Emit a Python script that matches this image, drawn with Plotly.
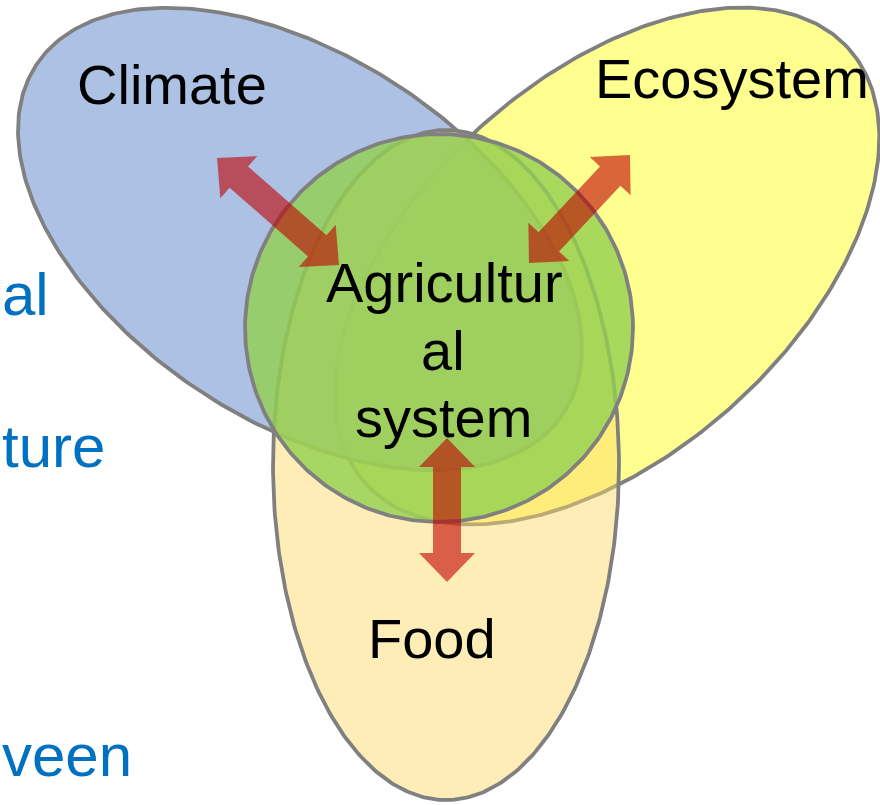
import numpy as np
import plotly.graph_objects as go

# ---- text content ----
circle_labels = ["Climate", "Ecosystem", "Food"]
center_lines = ["Agricultur", "al", "system"]
side_words = ["al", "ture", "veen"]

W, H = 880, 805
FONT = "Liberation Sans, Arial, sans-serif"
OUTLINE = "rgb(128,128,128)"
ARROW = "rgba(192,0,0,0.6)"


def ellipse(cx, cy, a, b, ang_deg, n=360):
    t = np.linspace(0, 2 * np.pi, n)
    ang = np.radians(ang_deg)
    x = cx + a * np.cos(t) * np.cos(ang) - b * np.sin(t) * np.sin(ang)
    y = cy + a * np.cos(t) * np.sin(ang) + b * np.sin(t) * np.cos(ang)
    return x, y


def arrow(x0, y0, x1, y1, shaft=28, head_w=56, head_l=29):
    dx, dy = x1 - x0, y1 - y0
    L = np.hypot(dx, dy)
    u = np.array([dx / L, dy / L])
    p = np.array([-u[1], u[0]])
    p0 = np.array([x0, y0]); p1 = np.array([x1, y1])
    pts = np.array([
        p0,
        p0 + u * head_l + p * head_w / 2,
        p0 + u * head_l + p * shaft / 2,
        p1 - u * head_l + p * shaft / 2,
        p1 - u * head_l + p * head_w / 2,
        p1,
        p1 - u * head_l - p * head_w / 2,
        p1 - u * head_l - p * shaft / 2,
        p0 + u * head_l - p * shaft / 2,
        p0 + u * head_l - p * head_w / 2,
        p0,
    ])
    return pts[:, 0], pts[:, 1]


fig = go.Figure()

# shapes: (cx, cy, a, b, angle, fill)
shapes = [
    (607, 266, 325, 188, -42, "rgba(255,255,0,0.44)"),      # Ecosystem (yellow)
    (300, 239, 316, 182, 33.5, "rgba(142,169,219,0.72)"),   # Climate (blue)
    (446, 465, 173, 335, 0, "rgba(255,217,102,0.47)"),      # Food
    (439, 328, 194, 194, 0, "rgba(146,208,80,0.8)"),        # Agricultural system
]
for cx, cy, a, b, ang, fill in shapes:
    x, y = ellipse(cx, cy, a, b, ang)
    fig.add_trace(go.Scatter(x=x, y=y, mode="lines", fill="toself",
                             fillcolor=fill,
                             line=dict(color=OUTLINE, width=3.8),
                             hoverinfo="skip", showlegend=False))

arrows = [
    (217, 158, 339, 265),
    (529, 263, 630, 155),
    (447, 438, 447, 582),
]
for x0, y0, x1, y1 in arrows:
    ax, ay = arrow(x0, y0, x1, y1)
    fig.add_trace(go.Scatter(x=ax, y=ay, mode="lines", fill="toself",
                             fillcolor=ARROW, line=dict(width=0),
                             hoverinfo="skip", showlegend=False))

annotations = []
label_pos = [(172, 84), (732, 78), (432, 638)]
for txt, (x, y) in zip(circle_labels, label_pos):
    annotations.append(dict(x=x, y=y, text=txt, showarrow=False,
                            xref="x", yref="y", xanchor="center", yanchor="middle",
                            font=dict(family=FONT, size=56, color="black")))
center_pos = [(444, 282), (443, 350), (443, 417)]
for txt, (x, y) in zip(center_lines, center_pos):
    annotations.append(dict(x=x, y=y, text=txt, showarrow=False,
                            xref="x", yref="y", xanchor="center", yanchor="middle",
                            font=dict(family=FONT, size=56, color="black")))
side_pos = [(0, 294), (0, 446), (0, 755)]
for txt, (x, y) in zip(side_words, side_pos):
    annotations.append(dict(x=x, y=y, text=txt, showarrow=False,
                            xref="x", yref="y", xanchor="left", yanchor="middle",
                            font=dict(family=FONT, size=60, color="#0070C0")))

fig.update_layout(
    width=W, height=H, autosize=False,
    margin=dict(l=0, r=0, t=0, b=0),
    paper_bgcolor="white", plot_bgcolor="white",
    xaxis=dict(range=[0, W], visible=False, fixedrange=True),
    yaxis=dict(range=[H, 0], visible=False, fixedrange=True),
    annotations=annotations,
    showlegend=False,
)

fig.write_html("out.html", config={"displayModeBar": False},
               post_script="document.body.style.margin='0';document.body.style.overflow='hidden';")
